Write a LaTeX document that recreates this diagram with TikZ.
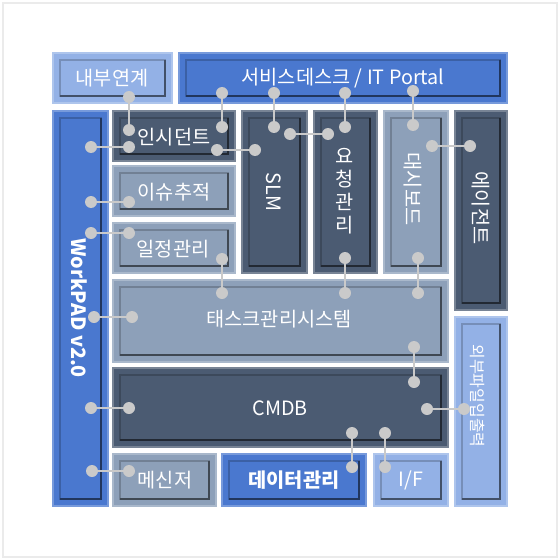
\documentclass[tikz,border=0pt]{standalone}
\usepackage{xcolor}
\usepackage{tikz}
\usetikzlibrary{positioning}
\usetikzlibrary{shapes,arrows,calc,arrows.meta}
\usepackage{fontspec}
\setmainfont{Noto Sans CJK KR}

\definecolor{slate}{HTML}{4B5B72}
\definecolor{greyblue}{HTML}{8DA0B9}
\definecolor{lightblue}{HTML}{93B1E6}
\definecolor{midblue}{HTML}{4A78CF}
\definecolor{wiregrey}{HTML}{CACACA}

\tikzset{
    label/.style={text=white, inner sep=0pt, font=\fontsize{14.8pt}{17pt}\selectfont},
    dot/.style={circle, fill=wiregrey, inner sep=0pt, minimum size=9pt},
    wire/.style={draw=wiregrey, line width=1.8pt}
}

\begin{document}
\begin{tikzpicture}[x=0.75pt, y=-0.75pt]
    \useasboundingbox (0,0) rectangle (560,560);
    \draw[black!8, line width=0.8pt] (3,3) rectangle (557,557); % Outer frame

    % Panels: outer box, inner box, shadow on right and bottom
    \foreach \xa/\ya/\xb/\yb/\col in {
        53/53/172/103/lightblue, 179/53/507/103/midblue,
        53/111/108/506/midblue, 113/111/235/161/slate,
        113/166/235/216/greyblue, 113/223/235/273/greyblue,
        242/111/307/273/slate, 314/111/377/273/slate,
        384/111/448/273/greyblue, 455/111/507/310/slate,
        113/280/448/362/greyblue, 455/317/507/506/lightblue,
        113/368/448/447/slate, 113/454/216/506/greyblue,
        222/454/366/506/midblue, 374/454/448/506/lightblue}{
        \fill[\col, draw=\col!75!white, line width=0.8pt] (\xa,\ya) rectangle (\xb,\yb);
        \draw[\col!80!black, line width=0.8pt] (\xa+7,\ya+7) rectangle (\xb-7,\yb-7);
        \draw[\col!45!black, line width=1.5pt] (\xb-7,\ya+7) -- (\xb-7,\yb-7) -- (\xa+7,\yb-7);
    }

    % Labels
    \node[label] (internal) at (112,78) {내부연계};
    \node[label] (desk) at (343,78) {서비스데스크 / IT Portal};
    \node[label, rotate=-90, font=\fontsize{14.8pt}{17pt}\selectfont\bfseries] (workpad) at (79,308) {WorkPAD v2.0};
    \node[label] (incident) at (174,137) {인시던트};
    \node[label] (issue) at (174,192) {이슈추적};
    \node[label] (schedule) at (173,249) {일정관리};
    \node[label, rotate=-90] (slm) at (274,192) {SLM};
    \node[label, align=center, font=\fontsize{14.8pt}{17.3pt}\selectfont] (request) at (345,191) {요\\청\\관\\리};
    \node[label, rotate=-90] (dashboard) at (413,189) {대시보드};
    \node[label, rotate=-90] (agent) at (481,208) {에이전트};
    \node[label] (task) at (279,319) {태스크관리시스템};
    \node[label] (cmdb) at (280,408) {CMDB};
    \node[label, rotate=-90, font=\fontsize{12pt}{14pt}\selectfont] (fileio) at (478,396) {외부파일입출력};
    \node[label] (messenger) at (165,480) {메신저};
    \node[label, font=\fontsize{14.8pt}{17pt}\selectfont\bfseries] (data) at (294,480) {데이터관리};
    \node[label] (iface) at (411,480) {I/F};

    % Connectors between panels
    \foreach \n/\xa/\ya/\xb/\yb in {
        c1/129/97/129/130, c2/91/147/129/147, c3/222/93/222/127,
        c4/217/150/255/150, c5/274/93/274/127, c6/290/134/328/134,
        c7/345/93/345/127, c8/413/91/413/125, c9/432/146/470/146,
        c10/91/202/129/202, c11/91/233/129/233, c12/222/259/222/293,
        c13/94/317/132/317, c14/345/258/345/293, c15/418/258/418/293,
        c16/414/347/414/382, c17/91/408/129/408, c18/427/409/464/409,
        c19/352/433/352/467, c20/385/433/385/467, c21/92/471/129/471}{
        \node[dot] (\n a) at (\xa,\ya) {};
        \node[dot] (\n b) at (\xb,\yb) {};
        \draw[wire] (\n a) -- (\n b);
    }
\end{tikzpicture}
\end{document}
